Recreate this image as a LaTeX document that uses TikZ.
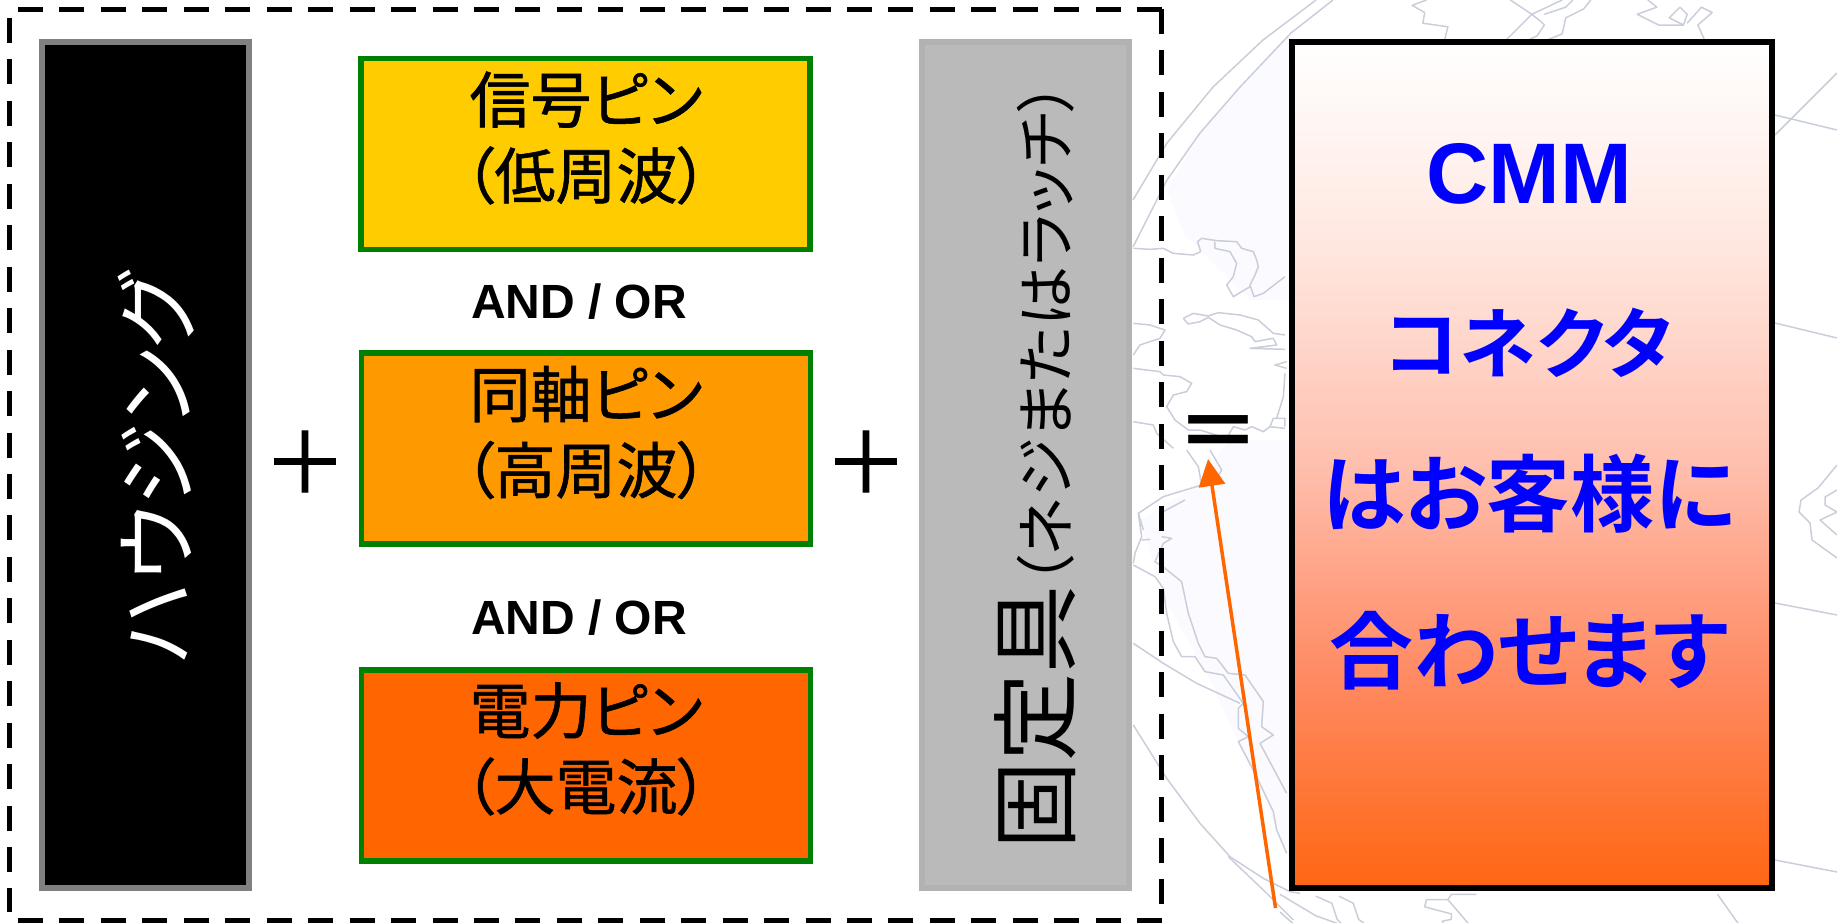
\documentclass[tikz,border=0pt]{standalone}
\usepackage{fontspec}
\usetikzlibrary{arrows.meta}
\newfontfamily\jpfont[RawFeature=+palt,BoldFont={Noto Sans CJK JP Bold},BoldFeatures={RawFeature=+palt}]{Noto Sans CJK JP}
\newfontfamily\jpmed[RawFeature=+palt,FakeBold=1]{Noto Sans CJK JP}
\newfontfamily\jpreg[FakeBold=1.2]{Noto Sans CJK JP}
\newfontfamily\latinbold[BoldFont={Liberation Sans Bold}]{Liberation Sans}
\definecolor{pinyellow}{HTML}{FFCC00}
\definecolor{pinorange}{HTML}{FF9900}
\definecolor{pinred}{HTML}{FF6600}
\definecolor{pingreen}{HTML}{008000}
\definecolor{mapline}{HTML}{C9CEDA}
\definecolor{maptint}{HTML}{FBFBFF}
\definecolor{gradA}{HTML}{FF6612}
\definecolor{gradB}{HTML}{FF8A62}
\definecolor{gradC}{HTML}{FFBFAE}
\definecolor{gradD}{HTML}{FFE6DE}
\pgfdeclareverticalshading{cmmgrad}{100bp}{color(0bp)=(gradA); color(25bp)=(gradA); color(37.5bp)=(gradB); color(50bp)=(gradC); color(62.5bp)=(gradD); color(75bp)=(white); color(100bp)=(white)}
\tikzset{
  pinbox/.style={draw=pingreen,line width=5.5pt,minimum width=449pt,minimum height=191pt,inner sep=0pt},
  pintext/.style={font=\jpmed\fontsize{61}{76}\selectfont,align=center,inner sep=0pt},
  andor/.style={font=\latinbold\bfseries\fontsize{48}{48}\selectfont,inner sep=0pt},
  tall/.style={line width=6pt,minimum width=207pt,minimum height=846pt,inner sep=0pt},
  bluetext/.style={font=\jpfont\bfseries\fontsize{84}{84}\selectfont,text=blue,inner sep=0pt},
  mathsign/.style={font=\jpreg\fontsize{84}{84}\selectfont,inner sep=0pt},
  dashside/.style={line width=5pt,dash pattern=on 25pt off 16.45pt},
  map/.style={draw=mapline,line width=1.5pt,line join=round}
}
\begin{document}
\begin{tikzpicture}[x=1pt,y=-1pt]
\useasboundingbox (0,0) rectangle (1837,922);
% map tint
\fill[maptint] (1287,37) -- (1240,87) -- (1200,133) -- (1167,190) -- (1185,235) -- (1250,300) -- (1290,300) -- (1290,37) -- cycle;
\fill[maptint] (1190,490) -- (1140,520) -- (1165,600) -- (1210,680) -- (1260,790) -- (1290,860) -- (1290,440) -- (1230,440) -- cycle;
% map outlines
\draw[map] (1133,200) -- (1167,143) -- (1213,87) -- (1263,40) -- (1316,0);
\draw[map] (1133,247) -- (1167,180) -- (1200,133) -- (1240,87) -- (1291,33) -- (1333,0);
\begin{scope}[x=0.33333pt,y=-0.33333pt,shift={(3390,0)}]
\draw[map] (10,745) -- (60,748) -- (100,745) -- (130,760) -- (190,765) -- (212,755) -- (203,725) -- (215,715) -- (260,722) -- (320,725) -- (335,745) -- (370,755) -- (380,780) -- (385,800) -- (375,825) -- (360,855) -- (372,890) -- (400,880) -- (465,830);
\draw[map] (255,725) -- (255,745) -- (300,755) -- (320,790) -- (310,830) -- (290,855) -- (310,890) -- (360,860);
\end{scope}
\begin{scope}[x=0.33333pt,y=-0.33333pt,shift={(3390,690)}]
\draw[map] (160,265) -- (190,250) -- (235,258) -- (265,248) -- (330,255) -- (385,270) -- (430,310) -- (465,315);
\draw[map] (160,265) -- (175,282) -- (210,275) -- (235,262) -- (270,285) -- (320,300) -- (365,320) -- (375,335) -- (430,325) -- (440,345) -- (360,355) -- (465,358);
\draw[map] (470,395) -- (435,405) -- (470,415);
\draw[map] (10,280) -- (60,285) -- (105,300) -- (90,325) -- (30,345) -- (10,375);
\draw[map] (10,415) -- (90,425) -- (100,435) -- (150,440) -- (185,460) -- (170,485) -- (130,495) -- (110,530) -- (135,570) -- (175,600) -- (210,600) -- (290,625) -- (310,590) -- (345,600) -- (365,590) -- (400,605) -- (420,590) -- (465,595);
\draw[map] (10,575) -- (70,585) -- (80,610) -- (130,655);
\draw[map] (420,590) -- (430,565) -- (465,565) -- (465,590);
\draw[map] (465,430) -- (460,500) -- (440,565);
\draw[map] (190,630) -- (250,630) -- (290,620);
\draw[map] (170,660) -- (205,710) -- (215,765) -- (100,800) -- (25,850) -- (40,900);
\draw[map] (240,660) -- (275,720) -- (245,770);
\end{scope}
\begin{scope}[x=0.33333pt,y=-0.33333pt,shift={(3390,1500)}]
\draw[map] (25,40) -- (35,110) -- (15,160) -- (10,190);
\draw[map] (100,35) -- (165,0);
\draw[map] (35,120) -- (60,118);
\draw[map] (95,110) -- (125,115) -- (100,130) -- (75,185) -- (105,205) -- (155,245) -- (175,340) -- (205,430) -- (225,470) -- (260,475) -- (295,520) -- (345,525) -- (390,590) -- (400,605) -- (395,680) -- (430,705) -- (390,730) -- (470,880);
\draw[map] (10,195) -- (75,230) -- (100,265) -- (110,340) -- (130,425) -- (155,470) -- (195,470) -- (225,515) -- (280,525) -- (340,610) -- (325,625) -- (325,685) -- (355,710) -- (325,725) -- (370,810) -- (430,935) -- (440,990) -- (470,1060);
\draw[map] (10,430) -- (100,490) -- (200,550) -- (330,610);
\draw[map] (10,675) -- (110,835) -- (210,970) -- (300,1070) -- (400,1135) -- (480,1175) -- (510,1180);
\draw[map] (295,1070) -- (400,1170) -- (490,1260);
\end{scope}
\begin{scope}[x=0.35714pt,y=-0.35714pt,shift={(3584,0)}]
\draw[map] (410,0) -- (370,15) -- (405,35) -- (400,65) -- (470,75) -- (460,115);
\draw[map] (645,0) -- (705,40) -- (630,115);
\draw[map] (790,0) -- (705,40) -- (730,60) -- (740,70) -- (720,100) -- (690,115);
\draw[map] (820,0) -- (800,20) -- (740,40);
\draw[map] (870,0) -- (850,25) -- (800,50) -- (790,95) -- (740,115);
\draw[map] (1030,0) -- (1055,20) -- (1000,40) -- (1060,70) -- (1130,70) -- (1090,50) -- (1120,20) -- (1140,40) -- (1130,70);
\draw[map] (1140,65) -- (1180,20) -- (1210,35) -- (1170,70) -- (1190,115);
\end{scope}
\begin{scope}[x=0.35714pt,y=-0.35714pt,shift={(3584,2464)}]
\draw[map] (0,40) -- (100,100) -- (170,125);
\draw[map] (100,45) -- (145,65) -- (160,110) -- (175,125);
\draw[map] (165,45) -- (205,65) -- (220,110) -- (240,125);
\draw[map] (0,90) -- (40,125);
\draw[map] (410,55) -- (470,55) -- (480,40) -- (550,40);
\draw[map] (410,55) -- (405,75) -- (480,95) -- (480,110) -- (455,115) -- (455,125);
\draw[map] (470,55) -- (530,125);
\draw[map] (1225,40) -- (1285,125);
\end{scope}
\draw[map] (1775,135) -- (1837,73);
\draw[map] (1775,115) -- (1837,130);
\draw[map] (1775,323) -- (1837,338);
\draw[map] (1775,603) -- (1837,615);
\draw[map] (1775,860) -- (1837,872);
\draw[map] (1837,465) -- (1818,488) -- (1801,500) -- (1799,512) -- (1810,523) -- (1812,540) -- (1837,558);
\draw[map] (1837,490) -- (1825,497) -- (1825,505) -- (1837,512) -- (1820,520) -- (1837,535);
% dashed frame
\coordinate (tl) at (18,9.5);
\coordinate (tr) at (1161.5,9.5);
\coordinate (rt) at (1161.5,9);
\coordinate (rb) at (1161.5,906);
\coordinate (lt) at (9.5,18);
\coordinate (lb) at (9.5,912);
\coordinate (bl) at (18,920);
\coordinate (br) at (1161.5,920);
\draw[dashside] (tl) -- (tr);
\draw[dashside] (rt) -- (rb);
\draw[dashside] (lt) -- (lb);
\draw[dashside] (bl) -- (br);
% boxes
\node[tall,draw=black!50,fill=black] (housing) at (145.5,465) {};
\node[white,font=\jpfont\fontsize{84}{84}\selectfont,rotate=90,inner sep=0pt] (housingtext) at (156,468) {ハウジング};
\node[pinbox,fill=pinyellow] (sig) at (585.5,154) {};
\node[pinbox,fill=pinorange] (coax) at (586,448.5) {};
\node[pinbox,fill=pinred] (pow) at (586,765.5) {};
\node[pintext] (sigt) at (586,138) {信号ピン\\（低周波）};
\node[pintext] (coaxt) at (586,432.5) {同軸ピン\\（高周波）};
\node[pintext] (powt) at (586,749) {電力ピン\\（大電流）};
\node[andor] (ao1) at (579,302) {AND / OR};
\node[andor] (ao2) at (579,618) {AND / OR};
\node[mathsign] (p1) at (305,462) {＋};
\node[mathsign] (p2) at (866,462) {＋};
\node[font=\jpfont\bfseries\fontsize{84}{84}\selectfont,inner sep=0pt] (eq) at (1218.5,439.5) {＝};
\node[tall,draw=black!30,fill=black!27] (fix) at (1025.5,465) {};
\node[rotate=90,anchor=base,inner sep=0pt,font=\jpfont] (fixt) at (1068,466) {{\fontsize{88}{88}\selectfont 固定具}{\fontsize{60}{60}\selectfont （ネジまたはラッチ）}};
\shade[shading=cmmgrad] (1291.5,42) rectangle (1772,888);
\node[draw=black,line width=6pt,minimum width=480.5pt,minimum height=846pt,inner sep=0pt] (cmm) at (1531.75,465) {};
\node[font=\latinbold\bfseries\fontsize{86}{86}\selectfont,text=blue,inner sep=0pt] (cmmt) at (1529,174) {CMM};
\node[bluetext,font=\jpfont\bfseries\fontsize{77}{77}\selectfont] (t2) at (1529,343) {コネクタ};
\node[bluetext] (t3) at (1529,494) {はお客様に};
\node[bluetext] (t4) at (1529,651) {合わせます};
% arrow
\coordinate (arrowtail) at (1275.5,908);
\coordinate (arrowhead) at (1208,459);
\draw[pinred,line width=3.5pt,-{Triangle[length=27pt,width=26pt]}] (arrowtail) -- (arrowhead);
\end{tikzpicture}
\end{document}
